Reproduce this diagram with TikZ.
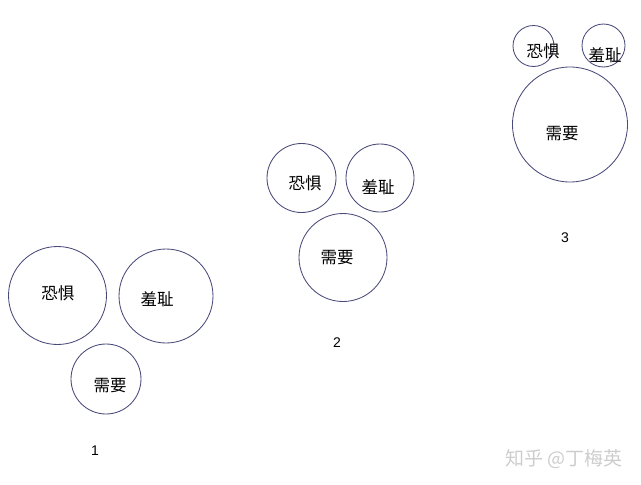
\documentclass[tikz,border=0pt]{standalone}
\usepackage{fontspec}
\setmainfont{Liberation Sans}
\newfontfamily\cjk{Noto Sans CJK SC}
\usetikzlibrary{positioning}

\definecolor{ringline}{RGB}{74,74,122}
\definecolor{markgray}{RGB}{205,205,205}

\begin{document}
\begin{tikzpicture}[
    x=1pt, y=-1pt,
    ring/.style={circle, draw=ringline, line width=0.85pt, inner sep=0pt},
    word/.style={font=\cjk\fontsize{16.5}{16.5}\selectfont, inner sep=0pt},
    tag/.style={font=\fontsize{14}{14}\selectfont, inner sep=0pt}
]
    \useasboundingbox (0,0) rectangle (641,485);

    % GROUP 1
    \node[ring, minimum size=98pt] (fear1) at (57.5,295.5) {};
    \node[ring, minimum size=94pt] (shame1) at (166,296) {};
    \node[ring, minimum size=70pt] (need1) at (106,379) {};
    \node[word] (fear1-text) at (58,293) {恐惧};
    \node[word] (shame1-text) at (157,299) {羞耻};
    \node[word] (need1-text) at (110,386) {需要};
    \node[tag] (num1) at (95,451) {1};

    % GROUP 2
    \node[ring, minimum size=69pt] (fear2) at (301.5,178) {};
    \node[ring, minimum size=68pt] (shame2) at (380,178) {};
    \node[ring, minimum size=88pt] (need2) at (343,257.5) {};
    \node[word] (fear2-text) at (305,183) {恐惧};
    \node[word] (shame2-text) at (378,187) {羞耻};
    \node[word] (need2-text) at (337,258) {需要};
    \node[tag] (num2) at (337,343) {2};

    % GROUP 3
    \node[ring, minimum size=41pt] (fear3) at (533.5,46) {};
    \node[ring, minimum size=43pt] (shame3) at (603.5,45.5) {};
    \node[ring, minimum size=115pt] (need3) at (570,124.5) {};
    \node[word] (fear3-text) at (543,51) {恐惧};
    \node[word] (shame3-text) at (605,55) {羞耻};
    \node[word] (need3-text) at (562,134) {需要};
    \node[tag] (num3) at (565,238) {3};

    % WATERMARK
    \node[font=\cjk\fontsize{19}{19}\selectfont, text=markgray, inner sep=0pt] (mark) at (564,459) {知乎 @丁梅英};
\end{tikzpicture}
\end{document}
